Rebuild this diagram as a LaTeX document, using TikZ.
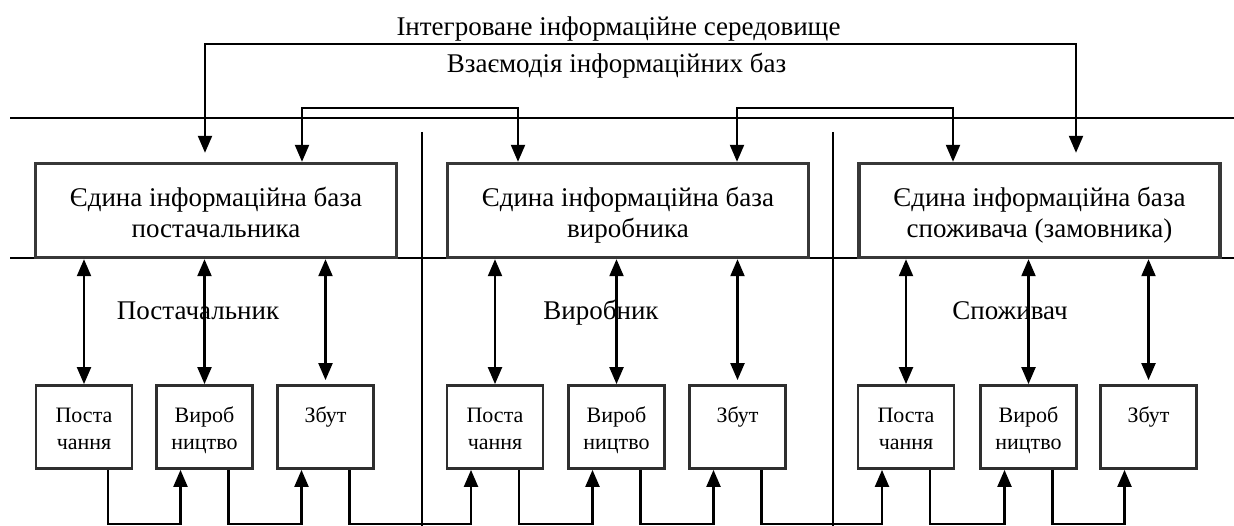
\documentclass[tikz,border=0pt]{standalone}
\usepackage{fontspec}
\setmainfont{Liberation Serif}
\usetikzlibrary{arrows.meta}
\newcommand\bigtop{\rule{0pt}{30pt}}
\newcommand\bigbot{\rule[-6pt]{0pt}{6pt}}
\newcommand\smtop{\rule{0pt}{22pt}}
\newcommand\smbot{\rule[-5pt]{0pt}{5pt}}
\begin{document}
\begin{tikzpicture}[x=1pt,y=-1pt,
  bigtext/.style={font=\fontsize{27}{31}\selectfont, inner sep=0pt, anchor=base},
  bigbox/.style={draw=black!78, line width=3.4pt, minimum width=361pt, minimum height=94pt,
    align=center, font=\fontsize{27}{31}\selectfont, inner sep=0pt},
  smallbox/.style={draw=black!82, line width=2.8pt, minimum width=96pt, minimum height=83pt,
    align=center, font=\fontsize{22}{27}\selectfont, inner sep=0pt},
  conn/.style={line width=2.2pt, -{Triangle[length=17pt,width=14pt]}},
  dconn/.style={line width=2.2pt, {Triangle[length=17pt,width=14pt]}-{Triangle[length=17pt,width=14pt]}},
  thinline/.style={line width=1.6pt}
]
\useasboundingbox (0,0) rectangle (1234,526);

% titles
\node[bigtext] (t1) at (618.5,36) {Інтегроване інформаційне середовище};
\node[bigtext] (t2) at (616.5,73) {Взаємодія інформаційних баз};

% horizontal and vertical rule lines
\coordinate (hl1) at (10,118);  \coordinate (hr1) at (1234,118);
\coordinate (hl2) at (10,258);  \coordinate (hr2) at (1234,258);
\coordinate (d1t) at (422,132); \coordinate (d1b) at (422,526);
\coordinate (d2t) at (833,132); \coordinate (d2b) at (833,526);
\draw[thinline] (hl1) -- (hr1);
\draw[thinline] (hl2) -- (hr2);
\draw[thinline] (d1t) -- (d1b);
\draw[thinline] (d2t) -- (d2b);

% big boxes
\node[bigbox] (B1) at (216,210.5) {\bigtop Єдина інформаційна база\\постачальника\bigbot};
\node[bigbox] (B2) at (628,210.5) {\bigtop Єдина інформаційна база\\виробника\bigbot};
\node[bigbox] (B3) at (1039.5,210.5) {\bigtop Єдина інформаційна база\\споживача (замовника)\bigbot};

% section labels
\node[bigtext] (l1) at (198,320) {Постачальник};
\node[bigtext] (l2) at (601,320) {Виробник};
\node[bigtext] (l3) at (1010,320) {Споживач};

% small boxes
\node[smallbox] (s11) at (84,427)    {\smtop Поста\\чання\smbot};
\node[smallbox] (s12) at (204.5,427) {\smtop Вироб\\ництво\smbot};
\node[smallbox] (s13) at (325.5,427) {\smtop Збут\\\smbot};
\node[smallbox] (s21) at (495,427)   {\smtop Поста\\чання\smbot};
\node[smallbox] (s22) at (616.5,427) {\smtop Вироб\\ництво\smbot};
\node[smallbox] (s23) at (737.5,427) {\smtop Збут\\\smbot};
\node[smallbox] (s31) at (906,427)   {\smtop Поста\\чання\smbot};
\node[smallbox] (s32) at (1028.5,427){\smtop Вироб\\ництво\smbot};
\node[smallbox] (s33) at (1148.5,427){\smtop Збут\\\smbot};

% top bracket (integrated environment)
\coordinate (k1) at (205,44);
\coordinate (k2) at (1076,44);
\draw[dconn, shorten <=9pt, shorten >=9pt] (k1 |- B1.north) -- (k1) -- (k2) -- (k2 |- B3.north);

% interaction brackets
\coordinate (m1) at (302,108); \coordinate (m2) at (518,108);
\coordinate (m3) at (737,108); \coordinate (m4) at (953,108);
\draw[dconn] (m1 |- B1.north) -- (m1) -- (m2) -- (m2 |- B2.north);
\draw[dconn] (m3 |- B2.north) -- (m3) -- (m4) -- (m4 |- B3.north);

% vertical double arrows
\draw[dconn] (s11.north |- B1.south) -- (s11.north);
\draw[dconn] (s12.north |- B1.south) -- (s12.north);
\draw[dconn, shorten >=4pt] (s13.north |- B1.south) -- (s13.north);
\draw[dconn] (s21.north |- B2.south) -- (s21.north);
\draw[dconn] (s22.north |- B2.south) -- (s22.north);
\draw[dconn, shorten >=4pt] (s23.north |- B2.south) -- (s23.north);
\draw[dconn] (s31.north |- B3.south) -- (s31.north);
\draw[dconn] (s32.north |- B3.south) -- (s32.north);
\draw[dconn, shorten >=4pt] (s33.north |- B3.south) -- (s33.north);

% bottom chain connectors
\coordinate (bot) at (0,524);
\foreach \a/\b in {s11/s12, s12/s13, s13/s21, s21/s22, s22/s23, s23/s31, s31/s32, s32/s33}{
  \coordinate (o) at ([xshift=24pt]\a.south);
  \coordinate (i) at ([xshift=-24pt]\b.south);
  \draw[conn] (o) -- (o |- bot) -| (i);
}
\end{tikzpicture}
\end{document}
